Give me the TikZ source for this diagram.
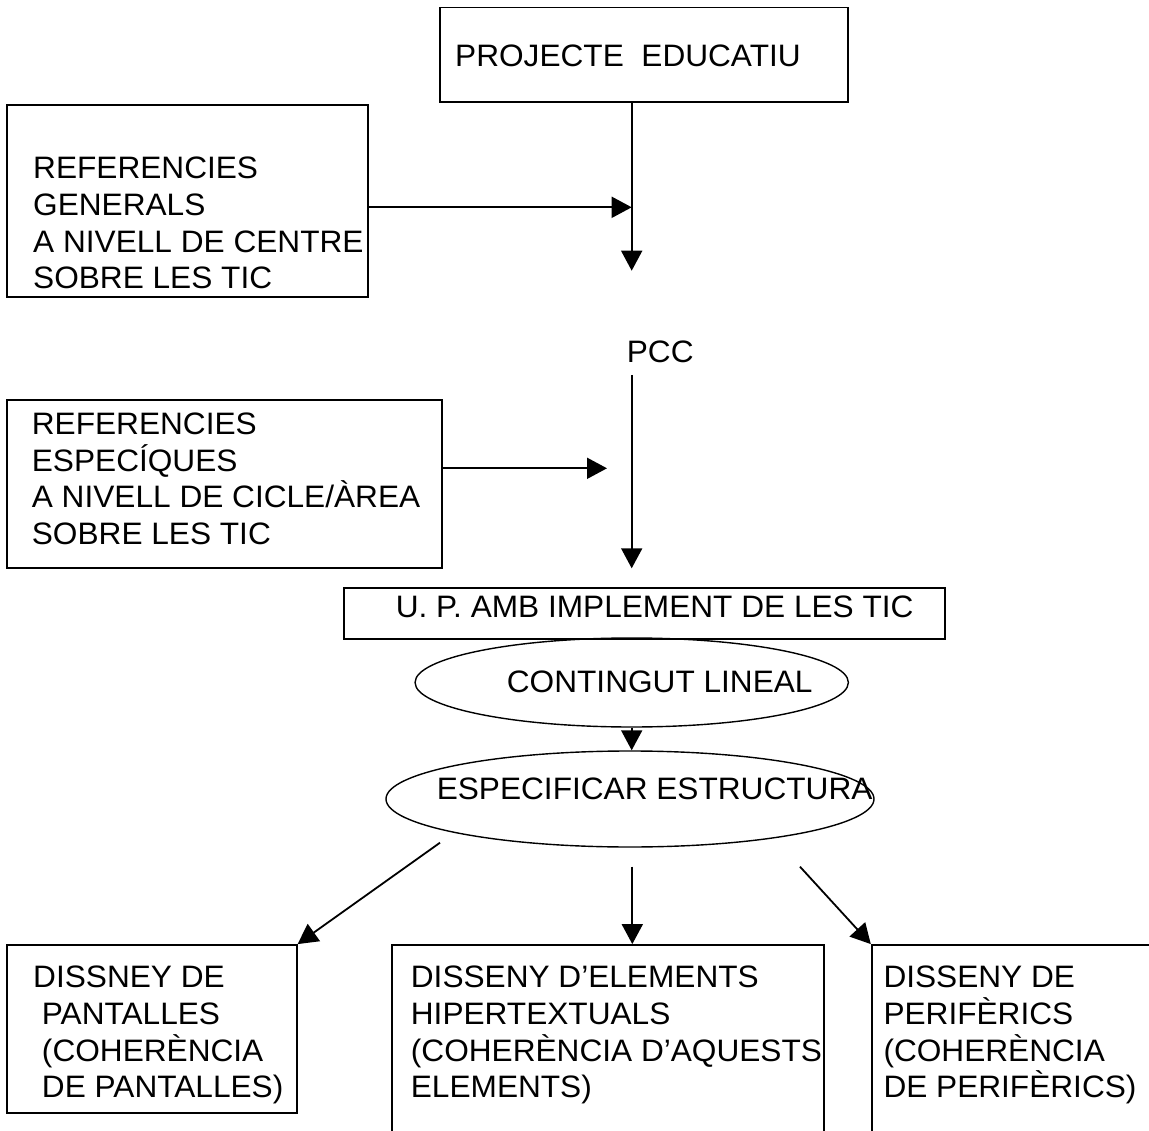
\documentclass[tikz,border=0pt]{standalone}
\usepackage{fontspec}
\newfontfamily\diagfont{Liberation Sans}[FakeStretch=1.02]
\usepackage{tikz}
\usetikzlibrary{arrows.meta,shapes.geometric,positioning}

\begin{document}
\begin{tikzpicture}[x=1pt,y=-1pt]
\tikzstyle{every node}+=[inner sep=0pt]
\tikzstyle{box}=[draw=black,line width=1.8pt,rectangle]
\tikzstyle{oval}=[draw=black,line width=1.4pt,ellipse]
\tikzstyle{txt}=[anchor=north west,align=left,font=\diagfont\fontsize{31}{36.7}\selectfont]
\tikzstyle{conn}=[draw=black,line width=1.8pt,-{Triangle[length=20pt,width=21pt]}]
\useasboundingbox (0,0) rectangle (1149,1131);
\node [box,minimum width=408pt,minimum height=94.5pt] (pe) at (644,54.75) {};
\node [txt] (pe-t) at (455,44.2) {PROJECTE\ \ EDUCATIU};
\node [box,minimum width=360.7pt,minimum height=192pt] (refgen) at (187.65,201) {};
\node [txt] (refgen-t) at (33,156.8) {REFERENCIES\\GENERALS\\A NIVELL DE CENTRE\\SOBRE LES TIC};
\node [txt] (pcc) at (626.7,340.2) {PCC};
\node [box,minimum width=434.4pt,minimum height=168.3pt] (refesp) at (224.5,484.15) {};
\node [txt] (refesp-t) at (31.7,412.5) {REFERENCIES\\ESPECÍQUES\\A NIVELL DE CICLE/ÀREA\\SOBRE LES TIC};
\node [box,minimum width=601pt,minimum height=51pt] (up) at (644.5,613.5) {};
\node [txt] (up-t) at (395.6,596) {U. P. AMB IMPLEMENT DE LES TIC};
\node [oval,minimum width=433.3pt,minimum height=89pt] (lineal) at (631.7,682.5) {};
\node [txt] (lineal-t) at (506.7,671) {CONTINGUT LINEAL};
\node [oval,minimum width=488pt,minimum height=96pt] (estruct) at (630,799) {};
\node [txt] (estruct-t) at (436.6,777.5) {ESPECIFICAR ESTRUCTURA};
\node [box,minimum width=289.4pt,minimum height=168pt] (pantalles) at (152,1029) {};
\node [txt] (pantalles-t) at (33,966) {DISSNEY DE\\\ PANTALLES\\\ (COHERÈNCIA\\\ DE PANTALLES)};
\node [box,minimum width=432.6pt,minimum height=200pt] (hiper) at (608,1045) {};
\node [txt] (hiper-t) at (410.7,966) {DISSENY D’ELEMENTS\\HIPERTEXTUALS\\(COHERÈNCIA D’AQUESTS\\ELEMENTS)};
\node [box,minimum width=303.3pt,minimum height=200pt] (perif) at (1023.35,1045) {};
\node [txt] (perif-t) at (883.3,966) {DISSENY DE\\PERIFÈRICS\\(COHERÈNCIA\\DE PERIFÈRICS)};
\coordinate (j1) at (631.7,207.3);
\coordinate (t1) at (631.7,270.7);
\draw [conn] (t1 |- pe.south) -- (t1);
\draw [conn] (refgen.east |- j1) -- (j1);
\coordinate (s2) at (631.7,375);
\coordinate (t2) at (631.7,568.3);
\draw [conn] (s2) -- (t2);
\coordinate (t3) at (607,468.3);
\draw [conn] (refesp.east |- t3) -- (t3);
\draw [conn] (lineal.south) -- (lineal.south |- estruct.north);
\coordinate (s4) at (440,842.7);
\draw [conn] (s4) -- (pantalles.north east);
\coordinate (s5) at (632.3,866.7);
\draw [conn] (s5) -- (s5 |- hiper.north);
\coordinate (s6) at (800,866.7);
\draw [conn] (s6) -- (perif.north west);
\end{tikzpicture}
\end{document}
